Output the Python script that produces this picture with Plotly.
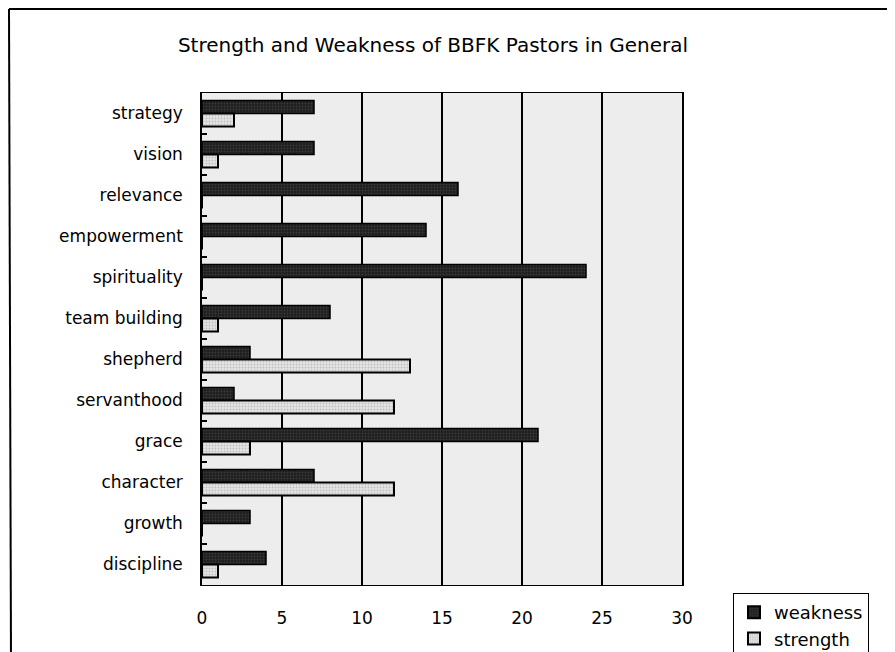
import plotly.graph_objects as go

categories = ["strategy", "vision", "relevance", "empowerment", "spirituality",
              "team building", "shepherd", "servanthood", "grace", "character",
              "growth", "discipline"]
weakness = [7, 7, 16, 14, 24, 8, 3, 2, 21, 7, 3, 4]
strength = [2, 1, 0, 0, 0, 1, 13, 12, 3, 12, 0, 1]
x_ticks = [0, 5, 10, 15, 20, 25, 30]

FONT = "DejaVu Sans"
OFF = 8  # page body margin
W, H = 887, 644

fig = go.Figure()
fig.add_trace(go.Bar(
    y=categories, x=weakness, name="weakness", orientation="h",
    marker=dict(color="#262626", line=dict(color="black", width=1.5),
                pattern=dict(shape=".", fgcolor="#555555", bgcolor="#1e1e1e", size=3, solidity=0.3)),
))
fig.add_trace(go.Bar(
    y=categories, x=strength, name="strength", orientation="h",
    marker=dict(color="#dcdcdc", line=dict(color="black", width=2),
                pattern=dict(shape=".", fgcolor="#9a9a9a", bgcolor="#e4e4e4", size=3, solidity=0.3)),
))

fig.update_layout(
    width=W, height=H,
    margin=dict(l=194, r=213, t=85, b=67),
    paper_bgcolor="white",
    plot_bgcolor="#ededed",
    barmode="group", bargap=0.37, bargroupgap=0,
    font=dict(family=FONT, color="black", size=16),
    title=dict(text="Strength and Weakness of BBFK Pastors in General",
               x=(433 - OFF) / W, xanchor="center", y=1 - (45 - OFF) / H, yanchor="middle",
               font=dict(family=FONT, size=20, color="black")),
    legend=dict(xref="container", yref="container",
                x=(733 - OFF) / W, y=1 - (593 - OFF) / H, xanchor="left", yanchor="top",
                bordercolor="black", borderwidth=1, bgcolor="white",
                font=dict(family=FONT, size=18), traceorder="normal",
                itemsizing="constant", tracegroupgap=0, itemwidth=30),
    showlegend=True,
)
fig.update_xaxes(range=[0, 30], tickvals=x_ticks, ticktext=[str(v) for v in x_ticks],
                 showgrid=True, gridcolor="black", gridwidth=2,
                 showline=True, linecolor="black", linewidth=1, mirror=True,
                 ticks="", ticklabelstandoff=18, tickfont=dict(size=17, family=FONT),
                 zeroline=False, automargin=False)
fig.update_yaxes(autorange="reversed", categoryorder="array", categoryarray=categories,
                 showline=True, linecolor="black", linewidth=1.5, mirror=True,
                 ticks="inside", tickson="boundaries", ticklen=5, tickcolor="black", tickwidth=2,
                 ticklabelstandoff=14, tickfont=dict(size=17, family=FONT), showgrid=False,
                 automargin=False)

# outer chart frame (top and left edges)
fig.add_shape(type="line", xref="paper", yref="paper",
              x0=(9 - 202) / 480, x1=(893 - 202) / 480, y0=(585 - 9) / 492, y1=(585 - 9) / 492,
              line=dict(color="black", width=2))
fig.add_shape(type="line", xref="paper", yref="paper",
              x0=(9 - 202) / 480, x1=(11 - 202) / 480, y0=(585 - 9) / 492, y1=(585 - 660) / 492,
              line=dict(color="black", width=2))

fig.write_html("out.html")
